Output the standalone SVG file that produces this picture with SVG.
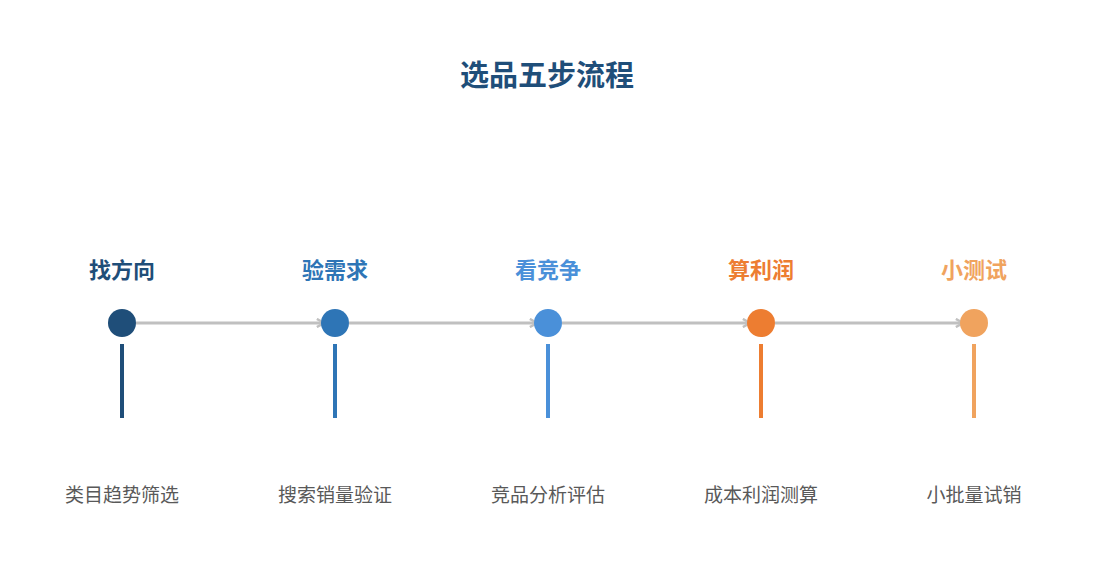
<svg xmlns="http://www.w3.org/2000/svg" width="1095" height="585" viewBox="0 0 1095 585">
<style>
text{font-family:"Noto Sans CJK SC","Liberation Sans",sans-serif;text-anchor:middle}
.title{font-size:29px;font-weight:bold;fill:#1f4e79}
.lbl{font-size:22px;font-weight:bold}
.desc{font-size:19px;fill:#595959}
.conn{stroke:#c0c0c0;stroke-width:3;fill:none}
.stem{stroke-width:4}
</style>
<defs>
<marker id="arr" viewBox="0 0 10 10" refX="8" refY="5" markerWidth="3.4" markerHeight="3.4" orient="auto" markerUnits="strokeWidth">
<path d="M1,1 L8,5 L1,9" fill="none" stroke="#c0c0c0" stroke-width="2.4"/>
</marker>
</defs>
<rect width="1095" height="585" fill="#ffffff"/>
<text class="title" x="547" y="86">选品五步流程</text>
<g id="connectors">
<line class="conn" x1="136" y1="323" x2="324" y2="323" marker-end="url(#arr)"/>
<line class="conn" x1="349" y1="323" x2="537" y2="323" marker-end="url(#arr)"/>
<line class="conn" x1="562" y1="323" x2="750" y2="323" marker-end="url(#arr)"/>
<line class="conn" x1="775" y1="323" x2="963" y2="323" marker-end="url(#arr)"/>
</g>
<g id="step1">
<text class="lbl" x="122" y="278" fill="#1f4e79">找方向</text>
<circle cx="122" cy="323" r="14" fill="#1f4e79"/>
<line class="stem" x1="122" y1="344" x2="122" y2="418" stroke="#1f4e79"/>
<text class="desc" x="122" y="502">类目趋势筛选</text>
</g>
<g id="step2">
<text class="lbl" x="335" y="278" fill="#2e75b6">验需求</text>
<circle cx="335" cy="323" r="14" fill="#2e75b6"/>
<line class="stem" x1="335" y1="344" x2="335" y2="418" stroke="#2e75b6"/>
<text class="desc" x="335" y="502">搜索销量验证</text>
</g>
<g id="step3">
<text class="lbl" x="548" y="278" fill="#4a90d9">看竞争</text>
<circle cx="548" cy="323" r="14" fill="#4a90d9"/>
<line class="stem" x1="548" y1="344" x2="548" y2="418" stroke="#4a90d9"/>
<text class="desc" x="548" y="502">竞品分析评估</text>
</g>
<g id="step4">
<text class="lbl" x="761" y="278" fill="#ed7d31">算利润</text>
<circle cx="761" cy="323" r="14" fill="#ed7d31"/>
<line class="stem" x1="761" y1="344" x2="761" y2="418" stroke="#ed7d31"/>
<text class="desc" x="761" y="502">成本利润测算</text>
</g>
<g id="step5">
<text class="lbl" x="974" y="278" fill="#f0a35e">小测试</text>
<circle cx="974" cy="323" r="14" fill="#f0a35e"/>
<line class="stem" x1="974" y1="344" x2="974" y2="418" stroke="#f0a35e"/>
<text class="desc" x="974" y="502">小批量试销</text>
</g>
</svg>
